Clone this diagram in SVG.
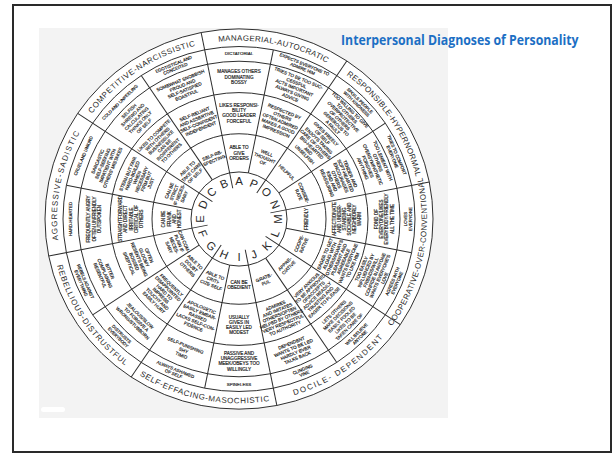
<svg xmlns="http://www.w3.org/2000/svg" width="614" height="454" viewBox="0 0 614 454">
<style>
.ln{stroke:#2d2d2d;stroke-width:1;fill:none}
.c{font-family:'Liberation Sans',Arial,sans-serif;font-size:4.6px;fill:#222;stroke:#222;stroke-width:0.18;text-anchor:middle}
.q{font-size:4.4px}
.lt{font-family:'Liberation Sans',Arial,sans-serif;font-size:11.5px;fill:#2a2a2a;text-anchor:middle}
.lb{font-family:'Liberation Sans',Arial,sans-serif;font-size:8px;fill:#2a2a2a;text-anchor:middle}
</style>
<defs>
<path id="pAP" d="M -40.17 -177.53 A 182 182 0 0 1 105.03 -148.64"/>
<path id="pNO" d="M 97.11 -153.92 A 182 182 0 0 1 179.37 -30.82"/>
<path id="pDE" d="M -177.51 40.17 A 182 182 0 0 1 -148.72 -104.91"/>
<path id="pBC" d="M -153.92 -97.11 A 182 182 0 0 1 -30.82 -179.37"/>
<path id="pLM" d="M 153.54 108.50 A 188 188 0 0 0 183.36 -41.49"/>
<path id="pJK" d="M 31.83 185.27 A 188 188 0 0 0 158.99 100.32"/>
<path id="pHI" d="M -108.50 153.54 A 188 188 0 0 0 41.49 183.36"/>
<path id="pFG" d="M -185.27 31.83 A 188 188 0 0 0 -100.32 158.99"/>
</defs>
<rect width="614" height="454" fill="#fff"/>
<rect x="13" y="5" width="598" height="447" fill="none" stroke="#2a2a2a" stroke-width="2"/>
<rect x="39" y="28" width="409" height="390" fill="#f3f3f3"/>
<rect x="41" y="407" width="24" height="5" rx="2.5" fill="#fff"/>
<g id="title" transform="translate(341,45) scale(0.8,1)"><text x="0" y="0" font-family="'Open Sans','Liberation Sans',sans-serif" font-weight="700" font-size="14.5" fill="#1c6fc4" textLength="297" lengthAdjust="spacingAndGlyphs">Interpersonal Diagnoses of Personality</text></g>

<g transform="translate(239,219) scale(1,0.98)">
<g id="connectors" class="ln">
<circle r="194" fill="#fff"/>
<circle r="176"/><circle r="161"/><circle r="129"/><circle r="87"/><circle r="48"/>
<line x1="0" y1="-32" x2="0" y2="-194" transform="rotate(-11.25)"/>
<line x1="0" y1="-32" x2="0" y2="-194" transform="rotate(33.75)"/>
<line x1="0" y1="-32" x2="0" y2="-194" transform="rotate(78.75)"/>
<line x1="0" y1="-32" x2="0" y2="-194" transform="rotate(123.75)"/>
<line x1="0" y1="-32" x2="0" y2="-194" transform="rotate(168.75)"/>
<line x1="0" y1="-32" x2="0" y2="-194" transform="rotate(213.75)"/>
<line x1="0" y1="-32" x2="0" y2="-194" transform="rotate(258.75)"/>
<line x1="0" y1="-32" x2="0" y2="-194" transform="rotate(303.75)"/>
<line x1="0" y1="-48" x2="0" y2="-176" transform="rotate(11.25)"/>
<line x1="0" y1="-48" x2="0" y2="-176" transform="rotate(56.25)"/>
<line x1="0" y1="-48" x2="0" y2="-176" transform="rotate(101.25)"/>
<line x1="0" y1="-48" x2="0" y2="-176" transform="rotate(146.25)"/>
<line x1="0" y1="-48" x2="0" y2="-176" transform="rotate(191.25)"/>
<line x1="0" y1="-48" x2="0" y2="-176" transform="rotate(236.25)"/>
<line x1="0" y1="-48" x2="0" y2="-176" transform="rotate(281.25)"/>
<line x1="0" y1="-48" x2="0" y2="-176" transform="rotate(326.25)"/>
</g>

<g id="labels">
<g id="label-AP"><text class="lb" font-size="7.8" letter-spacing="0.3"><textPath href="#pAP" startOffset="50%">MANAGERIAL-AUTOCRATIC</textPath></text></g>
<g id="label-NO"><text class="lb" letter-spacing="0.3"><textPath href="#pNO" startOffset="50%">RESPONSIBLE-HYPERNORMAL</textPath></text></g>
<g id="label-LM"><text class="lb" font-size="7.6" letter-spacing="0.4"><textPath href="#pLM" startOffset="50%">COOPERATIVE-OVER-CONVENTIONAL</textPath></text></g>
<g id="label-JK"><text class="lb" letter-spacing="1.5"><textPath href="#pJK" startOffset="50%">DOCILE- DEPENDENT</textPath></text></g>
<g id="label-HI"><text class="lb" letter-spacing="0.6"><textPath href="#pHI" startOffset="50%">SELF-EFFACING-MASOCHISTIC</textPath></text></g>
<g id="label-FG"><text class="lb" letter-spacing="0.8"><textPath href="#pFG" startOffset="50%">REBELLIOUS-DISTRUSTFUL</textPath></text></g>
<g id="label-DE"><text class="lb" letter-spacing="1.2"><textPath href="#pDE" startOffset="50%">AGGRESSIVE-SADISTIC</textPath></text></g>
<g id="label-BC"><text class="lb" letter-spacing="0.6"><textPath href="#pBC" startOffset="50%">COMPETITIVE-NARCISSISTIC</textPath></text></g>
</g>

<g id="letters">
<text id="L-A" class="lt" y="4.1" transform="rotate(0) translate(0,-39)">A</text>
<text id="L-B" class="lt" y="4.1" transform="rotate(-22.5) translate(0,-39)">B</text>
<text id="L-C" class="lt" y="4.1" transform="rotate(-45) translate(0,-39)">C</text>
<text id="L-D" class="lt" y="4.1" transform="rotate(-67.5) translate(0,-39)">D</text>
<text id="L-E" class="lt" y="4.1" transform="rotate(-90) translate(0,-39)">E</text>
<text id="L-F" class="lt" y="4.1" transform="rotate(247.5) translate(0,-39) rotate(180)">F</text>
<text id="L-G" class="lt" y="4.1" transform="rotate(225) translate(0,-39) rotate(180)">G</text>
<text id="L-H" class="lt" y="4.1" transform="rotate(202.5) translate(0,-39) rotate(180)">H</text>
<text id="L-I" class="lt" y="4.1" transform="rotate(180) translate(0,-39) rotate(180)">I</text>
<text id="L-J" class="lt" y="4.1" transform="rotate(157.5) translate(0,-39) rotate(180)">J</text>
<text id="L-K" class="lt" y="4.1" transform="rotate(135) translate(0,-39) rotate(180)">K</text>
<text id="L-L" class="lt" y="4.1" transform="rotate(112.5) translate(0,-39) rotate(180)">L</text>
<text id="L-M" class="lt" y="4.1" transform="rotate(90) translate(0,-39) rotate(180)">M</text>
<text id="L-N" class="lt" y="4.1" transform="rotate(67.5) translate(0,-39)">N</text>
<text id="L-O" class="lt" y="4.1" transform="rotate(45) translate(0,-39)">O</text>
<text id="L-P" class="lt" y="4.1" transform="rotate(22.5) translate(0,-39)">P</text>
</g>

<!-- ring 1 -->
<g id="A1" transform="rotate(0) translate(0,-67.5)"><text class="c"><tspan x="0" y="-3.7">ABLE TO</tspan><tspan x="0" y="1.7">GIVE</tspan><tspan x="0" y="7.1">ORDERS</tspan></text></g>
<g id="P1" transform="rotate(22.5) translate(0,-67.5)"><text class="c"><tspan x="0" y="-3.7">WELL</tspan><tspan x="0" y="1.7">THOUGHT</tspan><tspan x="0" y="7.1">OF</tspan></text></g>
<g id="O1" transform="rotate(45) translate(0,-67.5)"><text class="c"><tspan x="0" y="1.7">HELPFUL</tspan></text></g>
<g id="N1" transform="rotate(67.5) translate(0,-67.5)"><text class="c"><tspan x="0" y="-1">CONSIDE-</tspan><tspan x="0" y="4.4">RATE</tspan></text></g>
<g id="M1" transform="rotate(90) translate(0,-67.5) rotate(180)"><text class="c"><tspan x="0" y="1.7">FRIENDLY</tspan></text></g>
<g id="L1" transform="rotate(112.5) translate(0,-67.5) rotate(180)"><text class="c"><tspan x="0" y="-1">COOPE-</tspan><tspan x="0" y="4.4">RATIVE</tspan></text></g>
<g id="K1" transform="rotate(135) translate(0,-67.5) rotate(180)"><text class="c"><tspan x="0" y="-1">APPRE-</tspan><tspan x="0" y="4.4">CIATIVE</tspan></text></g>
<g id="J1" transform="rotate(157.5) translate(0,-67.5) rotate(180)"><text class="c"><tspan x="0" y="-1">GRATE-</tspan><tspan x="0" y="4.4">FUL</tspan></text></g>
<g id="I1" transform="rotate(180) translate(0,-67.5) rotate(180)"><text class="c"><tspan x="0" y="-1">CAN BE</tspan><tspan x="0" y="4.4">OBEDIENT</tspan></text></g>
<g id="H1" transform="rotate(202.5) translate(0,-67.5) rotate(180)"><text class="c"><tspan x="0" y="-3.7">ABLE TO</tspan><tspan x="0" y="1.7">CRITI-</tspan><tspan x="0" y="7.1">CIZE SELF</tspan></text></g>
<g id="G1" transform="rotate(225) translate(0,-67.5) rotate(180)"><text class="c"><tspan x="0" y="-3.7">ABLE TO</tspan><tspan x="0" y="1.7">DOUBT</tspan><tspan x="0" y="7.1">OTHERS</tspan></text></g>
<g id="F1" transform="rotate(247.5) translate(0,-67.5) rotate(180)"><text class="c"><tspan x="0" y="-6.4">CAN COM-</tspan><tspan x="0" y="-1">PLAIN IF</tspan><tspan x="0" y="4.4">NECES-</tspan><tspan x="0" y="9.8">SARY</tspan></text></g>
<g id="E1" transform="rotate(-90) translate(0,-67.5)"><text class="c"><tspan x="0" y="-6.4">CAN BE</tspan><tspan x="0" y="-1">FRANK</tspan><tspan x="0" y="4.4">AND</tspan><tspan x="0" y="9.8">HONEST</tspan></text></g>
<g id="D1" transform="rotate(-67.5) translate(0,-67.5)"><text class="c"><tspan x="0" y="-6.4">CAN BE</tspan><tspan x="0" y="-1">STRICT</tspan><tspan x="0" y="4.4">IF NECES-</tspan><tspan x="0" y="9.8">SARY</tspan></text></g>
<g id="C1" transform="rotate(-45) translate(0,-67.5)"><text class="c"><tspan x="0" y="-3.7">ABLE TO</tspan><tspan x="0" y="1.7">TAKE CARE</tspan><tspan x="0" y="7.1">OF SELF</tspan></text></g>
<g id="B1" transform="rotate(-22.5) translate(0,-67.5)"><text class="c"><tspan x="0" y="-1">SELF-RE-</tspan><tspan x="0" y="4.4">SPECTING</tspan></text></g>

<!-- ring 2 -->
<g id="A2" transform="rotate(0) translate(0,-108)"><text class="c"><tspan x="0" y="-6.4">LIKES RESPONSI-</tspan><tspan x="0" y="-1">BILITY</tspan><tspan x="0" y="4.4">GOOD LEADER</tspan><tspan x="0" y="9.8">FORCEFUL</tspan></text></g>
<g id="P2" transform="rotate(22.5) translate(0,-108)"><text class="c"><tspan x="0" y="-9.1">RESPECTED BY</tspan><tspan x="0" y="-3.7">OTHERS</tspan><tspan x="0" y="1.7">OFTEN ADMIRED</tspan><tspan x="0" y="7.1">MAKES A GOOD</tspan><tspan x="0" y="12.5">IMPRESSION</tspan></text></g>
<g id="O2" transform="rotate(45) translate(0,-108)"><text class="c"><tspan x="0" y="-13.3">GIVES FREELY</tspan><tspan x="0" y="-8.3">OF SELF</tspan><tspan x="0" y="-3.3">ENJOYS TAKING</tspan><tspan x="0" y="1.7">CARE OF OTHERS</tspan><tspan x="0" y="6.7">BIG-HEARTED</tspan><tspan x="0" y="11.7">AND</tspan><tspan x="0" y="16.7">UNSELFISH</tspan></text></g>
<g id="N2" transform="rotate(67.5) translate(0,-108)"><text class="c"><tspan x="0" y="-10.8">TENDER AND</tspan><tspan x="0" y="-5.8">SOFT-HEARTED</tspan><tspan x="0" y="-0.8">ENCOURAGES</tspan><tspan x="0" y="4.2">OTHERS</tspan><tspan x="0" y="9.2">KIND AND</tspan><tspan x="0" y="14.2">REASSURING</tspan></text></g>
<g id="M2" transform="rotate(90) translate(0,-108) rotate(180)"><text class="c"><tspan x="0" y="-10.8">AFFECTIONATE</tspan><tspan x="0" y="-5.8">AND UNDER-</tspan><tspan x="0" y="-0.8">STANDING</tspan><tspan x="0" y="4.2">SOCIABLE AND</tspan><tspan x="0" y="9.2">NEIGHBORLY</tspan><tspan x="0" y="14.2">WARM</tspan></text></g>
<g id="L2" transform="rotate(112.5) translate(0,-108) rotate(180)"><text class="c"><tspan x="0" y="-13.3">EAGER TO GET</tspan><tspan x="0" y="-8.3">ALONG WITH</tspan><tspan x="0" y="-3.3">OTHERS/ALWAYS</tspan><tspan x="0" y="1.7">PLEASANT AND</tspan><tspan x="0" y="6.7">AGREEABLE</tspan><tspan x="0" y="11.7">WANTS EVERYONE</tspan><tspan x="0" y="16.7">TO LIKE HIM</tspan></text></g>
<g id="K2" transform="rotate(135) translate(0,-108) rotate(180)"><text class="c"><tspan x="0" y="-10.8">VERY ANXIOUS</tspan><tspan x="0" y="-5.8">TO BE APPROVED</tspan><tspan x="0" y="-0.8">OF/ACCEPTS</tspan><tspan x="0" y="4.2">ADVICE READILY</tspan><tspan x="0" y="9.2">TRUSTING AND</tspan><tspan x="0" y="14.2">EAGER TO PLEASE</tspan></text></g>
<g id="J2" transform="rotate(157.5) translate(0,-108) rotate(180)"><text class="c"><tspan x="0" y="-10.8">ADMIRES</tspan><tspan x="0" y="-5.8">AND IMITATES</tspan><tspan x="0" y="-0.8">OTHERS/OFTEN</tspan><tspan x="0" y="4.2">HELPED BY OTHERS</tspan><tspan x="0" y="9.2">VERY RESPECTFUL</tspan><tspan x="0" y="14.2">TO AUTHORITY</tspan></text></g>
<g id="I2" transform="rotate(180) translate(0,-108) rotate(180)"><text class="c"><tspan x="0" y="-6.4">USUALLY</tspan><tspan x="0" y="-1">GIVES IN</tspan><tspan x="0" y="4.4">EASILY LED</tspan><tspan x="0" y="9.8">MODEST</tspan></text></g>
<g id="H2" transform="rotate(202.5) translate(0,-108) rotate(180)"><text class="c"><tspan x="0" y="-9.1">APOLOGETIC</tspan><tspan x="0" y="-3.7">EASILY EMBAR-</tspan><tspan x="0" y="1.7">RASSED</tspan><tspan x="0" y="7.1">LACKS SELF-CON-</tspan><tspan x="0" y="12.5">FIDENCE</tspan></text></g>
<g id="G2" transform="rotate(225) translate(0,-108) rotate(180)"><text class="c"><tspan x="0" y="-10.8">FREQUENTLY</tspan><tspan x="0" y="-5.8">DISAPPOINTED</tspan><tspan x="0" y="-0.8">HARD TO</tspan><tspan x="0" y="4.2">IMPRESS</tspan><tspan x="0" y="9.2">TOUCHY AND</tspan><tspan x="0" y="14.2">EASILY HURT</tspan></text></g>
<g id="F2" transform="rotate(247.5) translate(0,-108) rotate(180)"><text class="c"><tspan x="0" y="-9.1">OFTEN</tspan><tspan x="0" y="-3.7">GLOOMY</tspan><tspan x="0" y="1.7">RESENTS BEING</tspan><tspan x="0" y="7.1">BOSSED</tspan><tspan x="0" y="12.5">SKEPTICAL</tspan></text></g>
<g id="E2" transform="rotate(-90) translate(0,-108)"><text class="c"><tspan x="0" y="-9.1">STRAIGHTFORWARD</tspan><tspan x="0" y="-3.7">AND DIRECT</tspan><tspan x="0" y="1.7">IRRITABLE</tspan><tspan x="0" y="7.1">CRITICAL OF</tspan><tspan x="0" y="12.5">OTHERS</tspan></text></g>
<g id="D2" transform="rotate(-67.5) translate(0,-108)"><text class="c"><tspan x="0" y="-10.8">STERN BUT FAIR</tspan><tspan x="0" y="-5.8">HARD-BOILED</tspan><tspan x="0" y="-0.8">WHEN</tspan><tspan x="0" y="4.2">NECESSARY</tspan><tspan x="0" y="9.2">FIRM BUT</tspan><tspan x="0" y="14.2">JUST</tspan></text></g>
<g id="C2" transform="rotate(-45) translate(0,-108)"><text class="c"><tspan x="0" y="-10.8">LIKES TO COMPETE</tspan><tspan x="0" y="-5.8">WITH OTHERS</tspan><tspan x="0" y="-0.8">BUSINESSLIKE</tspan><tspan x="0" y="4.2">CAN BE</tspan><tspan x="0" y="9.2">INDIFFERENT</tspan><tspan x="0" y="14.2">TO OTHERS</tspan></text></g>
<g id="B2" transform="rotate(-22.5) translate(0,-108)"><text class="c"><tspan x="0" y="-6.4">SELF-RELIANT</tspan><tspan x="0" y="-1">AND ASSERTIVE</tspan><tspan x="0" y="4.4">SELF-CONFIDENT</tspan><tspan x="0" y="9.8">INDEPENDENT</tspan></text></g>

<!-- ring 3 -->
<g id="A3" transform="rotate(0) translate(0,-145)"><text class="c"><tspan x="0" y="-3.7">MANAGES OTHERS</tspan><tspan x="0" y="1.7">DOMINATING</tspan><tspan x="0" y="7.1">BOSSY</tspan></text></g>
<g id="P3" transform="rotate(22.5) translate(0,-145)"><text class="c"><tspan x="0" y="-9.1">TRIES TO BE TOO SUC-</tspan><tspan x="0" y="-3.7">CESSFUL</tspan><tspan x="0" y="1.7">ACTS IMPORTANT</tspan><tspan x="0" y="7.1">ALWAYS GIVING</tspan><tspan x="0" y="12.5">ADVICE</tspan></text></g>
<g id="O3" transform="rotate(45) translate(0,-145)"><text class="c"><tspan x="0" y="-10.8">TOO WILLING TO GIVE</tspan><tspan x="0" y="-5.8">TO OTHERS</tspan><tspan x="0" y="-0.8">OVERPROTECTIVE</tspan><tspan x="0" y="4.2">OF OTHERS</tspan><tspan x="0" y="9.2">GENEROUS TO</tspan><tspan x="0" y="14.2">A FAULT</tspan></text></g>
<g id="N3" transform="rotate(67.5) translate(0,-145)"><text class="c"><tspan x="0" y="-9.1">TOO LENIENT WITH</tspan><tspan x="0" y="-3.7">OTHERS</tspan><tspan x="0" y="1.7">OVERSYMPATHETIC</tspan><tspan x="0" y="7.1">FORGIVES</tspan><tspan x="0" y="12.5">ANYTHING</tspan></text></g>
<g id="M3" transform="rotate(90) translate(0,-145) rotate(180)"><text class="c"><tspan x="0" y="-6.4">FOND OF</tspan><tspan x="0" y="-1">EVERYONE/LIKES</tspan><tspan x="0" y="4.4">EVERYBODY/FRIENDLY</tspan><tspan x="0" y="9.8">ALL THE TIME</tspan></text></g>
<g id="L3" transform="rotate(112.5) translate(0,-145) rotate(180)"><text class="c"><tspan x="0" y="-10.8">TOO EASILY</tspan><tspan x="0" y="-5.8">INFLUENCED BY</tspan><tspan x="0" y="-0.8">FRIENDS/WILL</tspan><tspan x="0" y="4.2">CONFIDE IN ANYONE</tspan><tspan x="0" y="9.2">WANTS EVERYONE'S</tspan><tspan x="0" y="14.2">LOVE</tspan></text></g>
<g id="K3" transform="rotate(135) translate(0,-145) rotate(180)"><text class="c"><tspan x="0" y="-9.1">LETS OTHERS</tspan><tspan x="0" y="-3.7">MAKE DECISIONS</tspan><tspan x="0" y="1.7">EASILY FOOLED</tspan><tspan x="0" y="7.1">LIKES TO BE</tspan><tspan x="0" y="12.5">TAKEN CARE OF</tspan></text></g>
<g id="J3" transform="rotate(157.5) translate(0,-145) rotate(180)"><text class="c"><tspan x="0" y="-6.4">DEPENDENT</tspan><tspan x="0" y="-1">WANTS TO BE LED</tspan><tspan x="0" y="4.4">HARDLY EVER</tspan><tspan x="0" y="9.8">TALKS BACK</tspan></text></g>
<g id="I3" transform="rotate(180) translate(0,-145) rotate(180)"><text class="c"><tspan x="0" y="-6.4">PASSIVE AND</tspan><tspan x="0" y="-1">UNAGGRESSIVE</tspan><tspan x="0" y="4.4">MEEK/OBEYS TOO</tspan><tspan x="0" y="9.8">WILLINGLY</tspan></text></g>
<g id="H3" transform="rotate(202.5) translate(0,-145) rotate(180)"><text class="c"><tspan x="0" y="-3.7">SELF-PUNISHING</tspan><tspan x="0" y="1.7">SHY</tspan><tspan x="0" y="7.1">TIMID</tspan></text></g>
<g id="G3" transform="rotate(225) translate(0,-145) rotate(180)"><text class="c"><tspan x="0" y="-3.7">JEALOUS/SLOW</tspan><tspan x="0" y="1.7">TO FORGIVE A</tspan><tspan x="0" y="7.1">WRONG/STUBBORN</tspan></text></g>
<g id="F3" transform="rotate(247.5) translate(0,-145) rotate(180)"><text class="c"><tspan x="0" y="-3.7">BITTER</tspan><tspan x="0" y="1.7">COMPLAINING</tspan><tspan x="0" y="7.1">RESENTFUL</tspan></text></g>
<g id="E3" transform="rotate(-90) translate(0,-145)"><text class="c"><tspan x="0" y="-3.7">FREQUENTLY ANGRY</tspan><tspan x="0" y="1.7">OFTEN UNFRIENDLY</tspan><tspan x="0" y="7.1">OUTSPOKEN</tspan></text></g>
<g id="D3" transform="rotate(-67.5) translate(0,-145)"><text class="c"><tspan x="0" y="-6.4">SARCASTIC</tspan><tspan x="0" y="-1">SELF-SEEKING</tspan><tspan x="0" y="4.4">IMPATIENT WITH</tspan><tspan x="0" y="9.8">OTHERS' MISTAKES</tspan></text></g>
<g id="C3" transform="rotate(-45) translate(0,-145)"><text class="c"><tspan x="0" y="-9.1">SELFISH</tspan><tspan x="0" y="-3.7">SHREWD AND</tspan><tspan x="0" y="1.7">CALCULATING</tspan><tspan x="0" y="7.1">THINKS ONLY</tspan><tspan x="0" y="12.5">OF SELF</tspan></text></g>
<g id="B3" transform="rotate(-22.5) translate(0,-145)"><text class="c"><tspan x="0" y="-6.4">SOMEWHAT SNOBBISH</tspan><tspan x="0" y="-1">PROUD AND</tspan><tspan x="0" y="4.4">SELF-SATISFIED</tspan><tspan x="0" y="9.8">BOASTFUL</tspan></text></g>

<!-- ring 4 -->
<g id="A4" transform="rotate(0) translate(0,-168.5)"><text class="c q"><tspan x="0" y="1.6">DICTATORIAL</tspan></text></g>
<g id="P4" transform="rotate(22.5) translate(0,-168.5)"><text class="c q"><tspan x="0" y="-0.8">EXPECTS EVERYONE TO</tspan><tspan x="0" y="4">ADMIRE HIM</tspan></text></g>
<g id="O4" transform="rotate(45) translate(0,-168.5)"><text class="c q"><tspan x="0" y="-0.8">SPOILS PEOPLE</tspan><tspan x="0" y="4">WITH KINDNESS</tspan></text></g>
<g id="N4" transform="rotate(67.5) translate(0,-168.5)"><text class="c q"><tspan x="0" y="-0.8">TRIES TO COMFORT</tspan><tspan x="0" y="4">EVERYONE</tspan></text></g>
<g id="M4" transform="rotate(90) translate(0,-168.5) rotate(180)"><text class="c q"><tspan x="0" y="-0.8">LOVES</tspan><tspan x="0" y="4">EVERYONE</tspan></text></g>
<g id="L4" transform="rotate(112.5) translate(0,-168.5) rotate(180)"><text class="c q"><tspan x="0" y="-0.8">AGREES WITH</tspan><tspan x="0" y="4">EVERYONE</tspan></text></g>
<g id="K4" transform="rotate(135) translate(0,-168.5) rotate(180)"><text class="c q"><tspan x="0" y="-0.8">WILL BELIEVE</tspan><tspan x="0" y="4">ANYONE</tspan></text></g>
<g id="J4" transform="rotate(157.5) translate(0,-168.5) rotate(180)"><text class="c q"><tspan x="0" y="-0.8">CLINGING</tspan><tspan x="0" y="4">VINE</tspan></text></g>
<g id="I4" transform="rotate(180) translate(0,-168.5) rotate(180)"><text class="c q"><tspan x="0" y="1.6">SPINELESS</tspan></text></g>
<g id="H4" transform="rotate(202.5) translate(0,-168.5) rotate(180)"><text class="c q"><tspan x="0" y="-0.8">ALWAYS ASHAMED</tspan><tspan x="0" y="4">OF SELF</tspan></text></g>
<g id="G4" transform="rotate(225) translate(0,-168.5) rotate(180)"><text class="c q"><tspan x="0" y="-0.8">DISTRUSTS</tspan><tspan x="0" y="4">EVERYBODY</tspan></text></g>
<g id="F4" transform="rotate(247.5) translate(0,-168.5) rotate(180)"><text class="c q"><tspan x="0" y="-0.8">REBELS AGAINST</tspan><tspan x="0" y="4">EVERYTHING</tspan></text></g>
<g id="E4" transform="rotate(-90) translate(0,-168.5)"><text class="c q"><tspan x="0" y="1.6">HARD-HEARTED</tspan></text></g>
<g id="D4" transform="rotate(-67.5) translate(0,-168.5)"><text class="c q"><tspan x="0" y="1.6">CRUEL AND UNKIND</tspan></text></g>
<g id="C4" transform="rotate(-45) translate(0,-168.5)"><text class="c q"><tspan x="0" y="1.6">COLD AND UNFEELING</tspan></text></g>
<g id="B4" transform="rotate(-22.5) translate(0,-168.5)"><text class="c q"><tspan x="0" y="-0.8">EGOTISTICAL AND</tspan><tspan x="0" y="4">CONCEITED</tspan></text></g>
</g>
</svg>
